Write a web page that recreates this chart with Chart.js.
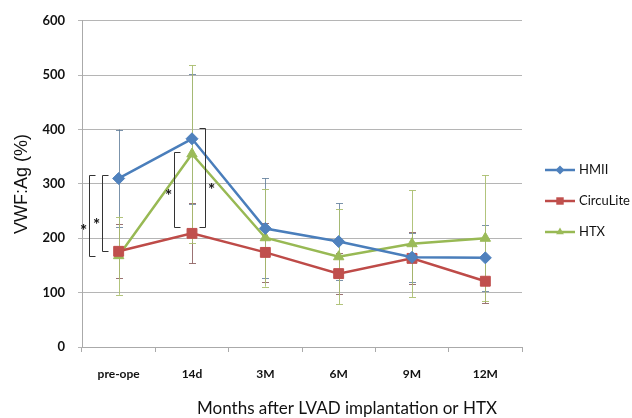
<!DOCTYPE html>
<html>
<head>
<meta charset="utf-8">
<script src="https://cdn.jsdelivr.net/npm/chart.js@4.4.1/dist/chart.umd.min.js"></script>
<style>
  html, body { margin: 0; padding: 0; background: #fff; }
  #wrap { width: 632px; height: 418px; }
</style>
</head>
<body>
<div id="wrap"><canvas id="chart" width="632" height="418"></canvas></div>
<script>
// values
const months = ['pre-ope', '14d', '3M', '6M', '9M', '12M'];
const yTicks = [0, 100, 200, 300, 400, 500, 600];

const hmii = [310, 383, 218, 194, 165, 164];
const hmiiSd = [90, 120, 92, 70, 45, 61];
const circulite = [176, 209, 174, 135, 163, 121];
const circuliteSd = [50, 55, 55, 37, 48, 40];
const htx = [168, 355, 201, 166, 190, 200];
const htxSd = [72, 163, 90, 87, 98, 116];

// significance brackets: category, shift in category widths, top/bottom value, star value
const brackets = [
  { at: 0, shift: -0.40, top: 317, bottom: 167, star: 220, side: 'left' },
  { at: 0, shift: -0.23, top: 316, bottom: 176, star: 231, side: 'left' },
  { at: 1, shift: -0.25, top: 358, bottom: 220, star: 284, side: 'left' },
  { at: 1, shift: 0.18, top: 402, bottom: 220, star: 295, side: 'right' }
];

const xTitle = 'Months after LVAD implantation or HTX';
const FONT = 'Lato, "Open Sans", sans-serif';

const errorBars = {
  id: 'errorBars',
  beforeDatasetsDraw(chart) {
    const ctx = chart.ctx;
    const y = chart.scales.y;
    chart.data.datasets.forEach((ds, i) => {
      const meta = chart.getDatasetMeta(i);
      ctx.save();
      ctx.strokeStyle = ds.errColor;
      ctx.lineWidth = 1;
      meta.data.forEach((pt, j) => {
        const v = ds.data[j], sd = ds.sd[j];
        const x = Math.round(pt.x) + 0.5;
        const yt = y.getPixelForValue(v + sd), yb = y.getPixelForValue(v - sd);
        ctx.beginPath();
        ctx.moveTo(x, yt); ctx.lineTo(x, yb);
        ctx.moveTo(x - 3.5, Math.round(yt) + 0.5); ctx.lineTo(x + 3.5, Math.round(yt) + 0.5);
        ctx.moveTo(x - 3.5, Math.round(yb) + 0.5); ctx.lineTo(x + 3.5, Math.round(yb) + 0.5);
        ctx.stroke();
      });
      ctx.restore();
    });
  }
};

const sigMarks = {
  id: 'sigMarks',
  afterDatasetsDraw(chart) {
    const ctx = chart.ctx;
    const xs = chart.scales.x, y = chart.scales.y;
    const step = xs.getPixelForValue(1) - xs.getPixelForValue(0);
    ctx.save();
    ctx.strokeStyle = '#333';
    ctx.lineWidth = 1;
    ctx.fillStyle = '#111';
    ctx.font = 'bold 17px ' + FONT;
    ctx.textAlign = 'center';
    ctx.textBaseline = 'middle';
    brackets.forEach(b => {
      const x = Math.round(xs.getPixelForValue(b.at) + b.shift * step) + 0.5;
      const yt = Math.round(y.getPixelForValue(b.top)) + 0.5;
      const yb = Math.round(y.getPixelForValue(b.bottom)) + 0.5;
      const d = b.side === 'left' ? 6 : -6;
      ctx.beginPath();
      ctx.moveTo(x + d, yt); ctx.lineTo(x, yt); ctx.lineTo(x, yb); ctx.lineTo(x + d, yb);
      ctx.stroke();
      ctx.fillText('*', x - d, y.getPixelForValue(b.star) + 4);
    });
    ctx.restore();
  }
};

const sideLegend = {
  id: 'sideLegend',
  afterDraw(chart) {
    const ctx = chart.ctx;
    const x0 = chart.chartArea.right + 23;
    ctx.save();
    chart.data.datasets.forEach((ds, i) => {
      const yy = 170 + i * 31;
      ctx.strokeStyle = ds.borderColor;
      ctx.lineWidth = 2.5;
      ctx.beginPath();
      ctx.moveTo(x0, yy); ctx.lineTo(x0 + 30, yy);
      ctx.stroke();
      ctx.fillStyle = ds.pointBackgroundColor;
      Chart.helpers.drawPoint(ctx, { pointStyle: ds.pointStyle, radius: ds.pointRadius * 0.75, borderWidth: 0 }, x0 + 15, yy);
      ctx.fillStyle = '#111';
      ctx.font = '13px ' + FONT;
      ctx.textAlign = 'left';
      ctx.textBaseline = 'middle';
      ctx.fillText(ds.label, x0 + 34, yy);
    });
    // x axis title, centred as in the original figure
    ctx.fillStyle = '#111';
    ctx.font = '17px ' + FONT;
    ctx.textAlign = 'center';
    ctx.textBaseline = 'middle';
    ctx.fillText(xTitle, 347, 409);
    ctx.restore();
  }
};

new Chart(document.getElementById('chart'), {
  type: 'line',
  data: {
    labels: months,
    datasets: [
      { label: 'HMII', data: hmii, sd: hmiiSd, borderColor: '#4a7ebb', pointBackgroundColor: '#4f81bd',
        pointBorderColor: '#4f81bd', pointStyle: 'rectRot', pointRadius: 6, errColor: 'rgba(90,120,150,0.8)' },
      { label: 'CircuLite', data: circulite, sd: circuliteSd, borderColor: '#be4b48', pointBackgroundColor: '#c0504d',
        pointBorderColor: '#c0504d', pointStyle: 'rect', pointRadius: 7, errColor: 'rgba(130,80,80,0.8)' },
      { label: 'HTX', data: htx, sd: htxSd, borderColor: '#98b954', pointBackgroundColor: '#9bbb59',
        pointBorderColor: '#9bbb59', pointStyle: 'triangle', pointRadius: 6, errColor: 'rgba(170,190,110,0.9)' }
    ].map(d => Object.assign({ borderWidth: 2.5, tension: 0, pointBorderWidth: 1, fill: false }, d))
  },
  options: {
    responsive: false,
    animation: false,
    layout: { padding: { top: 19, right: 110, bottom: 0, left: 0 } },
    plugins: { legend: { display: false }, tooltip: { enabled: false } },
    scales: {
      x: {
        offset: true,
        grid: { offset: true, drawOnChartArea: false, drawTicks: true, tickLength: 5, color: '#aaa' },
        border: { color: '#aaa' },
        ticks: { padding: 15, color: '#111', font: { family: FONT, size: 12, weight: 'bold' } },
        afterFit(s) { s.height = 71; }
      },
      y: {
        min: 0, max: 600,
        afterBuildTicks(s) { s.ticks = yTicks.map(v => ({ value: v })); },
        grid: { color: '#b5b5b5', tickLength: 4 },
        border: { color: '#aaa' },
        ticks: { padding: 13, color: '#111', font: { family: FONT, size: 13, weight: 'bold' } },
        title: { display: true, text: 'VWF:Ag (%)', color: '#111',
          font: { family: '"Liberation Sans", Arial, sans-serif', size: 18 }, padding: { top: 11, bottom: 0 } },
        afterFit(s) { s.width = 82; }
      }
    }
  },
  plugins: [errorBars, sigMarks, sideLegend]
});
</script>
</body>
</html>
